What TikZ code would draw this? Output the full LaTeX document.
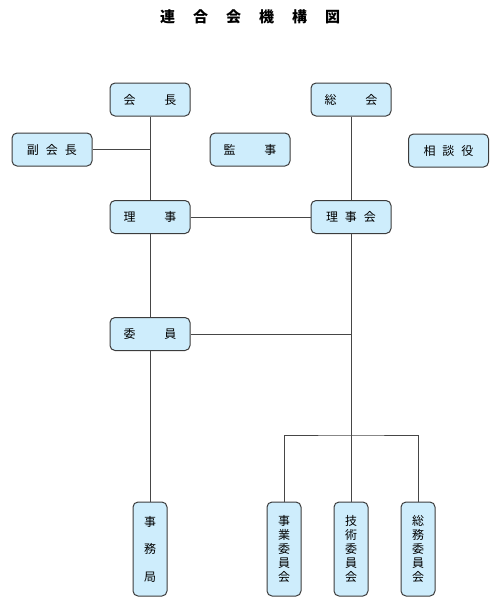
\documentclass[tikz,border=0pt]{standalone}
\usepackage{fontspec}
\newfontfamily\jp{Noto Sans CJK JP}
\definecolor{boxfill}{RGB}{206,237,252}
\definecolor{boxline}{RGB}{60,60,60}
\definecolor{linecol}{RGB}{70,70,70}
\tikzset{
  orgbox/.style={draw=boxline, fill=boxfill, rounded corners=5pt, line width=1pt,
    inner sep=0pt, minimum width=80pt, minimum height=33pt,
    font=\jp\fontsize{12}{14}\selectfont},
  vertbox/.style={orgbox, minimum width=34pt, minimum height=94pt, align=center},
  link/.style={draw=linecol, line width=0.9pt},
}
\begin{document}
\begin{tikzpicture}[x=1pt,y=-1pt]
\useasboundingbox (0,0) rectangle (500,611);
\node[font=\jp\bfseries\fontsize{15}{18}\selectfont] (title) at (250,17)
  {連\hspace{18pt}合\hspace{18pt}会\hspace{18pt}機\hspace{18pt}構\hspace{18pt}図};
\node[orgbox] (kaicho) at (150,99.5) {会\hspace{29pt}長};
\node[orgbox] (sokai) at (351,99.5) {総\hspace{29pt}会};
\node[orgbox] (fuku) at (52,149.5) {副\hspace{7pt}会\hspace{7pt}長};
\node[orgbox] (kansa) at (250,149.5) {監\hspace{29pt}事};
\node[orgbox] (sodan) at (448.5,150.5) {相\hspace{7pt}談\hspace{7pt}役};
\node[orgbox] (riji) at (150,217) {理\hspace{29pt}事};
\node[orgbox] (rijikai) at (351,217) {理\hspace{7pt}事\hspace{7pt}会};
\node[orgbox] (iin) at (150,334) {委\hspace{29pt}員};
\node[vertbox, font=\jp\fontsize{12}{27.5}\selectfont] (jimu) at (150,549) {事\\務\\局};
\node[vertbox] (jigyo) at (284,549) {事\\業\\委\\員\\会};
\node[vertbox] (gijutsu) at (351,549) {技\\術\\委\\員\\会};
\node[vertbox] (somu) at (418,549) {総\\務\\委\\員\\会};
\coordinate (fukuj) at (kaicho.south |- fuku.east);
\coordinate (iinj) at (rijikai.south |- iin.east);
\coordinate (bar) at (351,435);
\draw[link] (kaicho.south) -- (riji.north);
\draw[link] (fuku.east) -- (fukuj);
\draw[link] (riji.south) -- (iin.north);
\draw[link] (iin.south) -- (jimu.north);
\draw[link] (sokai.south) -- (rijikai.north);
\draw[link] (riji.east) -- (rijikai.west);
\draw[link] (rijikai.south) -- (gijutsu.north);
\draw[link] (iin.east) -- (iinj);
\draw[link] (jigyo.north) |- (bar) -| (somu.north);
\end{tikzpicture}
\end{document}
